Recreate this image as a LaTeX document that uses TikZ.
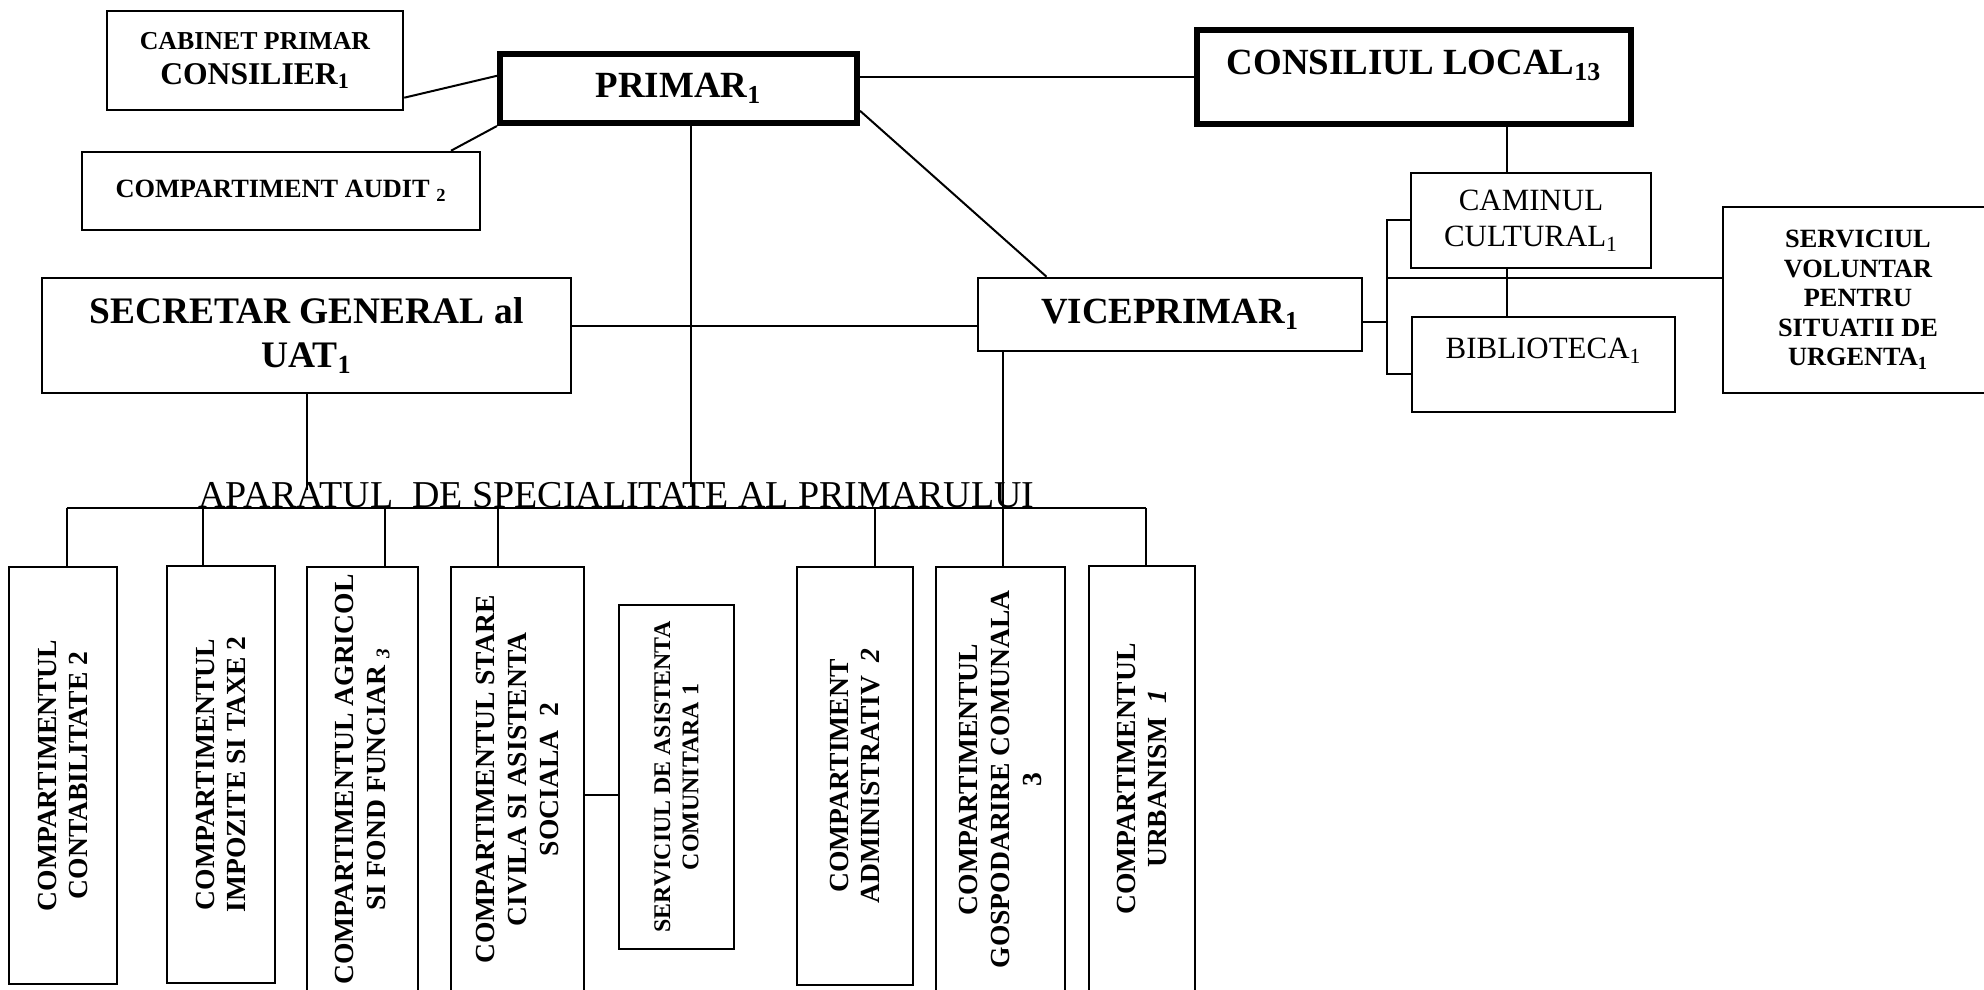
\documentclass[tikz,border=0pt]{standalone}
\usepackage{fontspec}
\setmainfont{Liberation Serif}
\tikzset{
  unitbox/.style={draw, line width=0.050cm, inner sep=0pt, align=center},
  headbox/.style={draw, line width=0.120cm, inner sep=0pt, align=center},
  vertbox/.style={unitbox, rotate=90, font=\fontsize{15.7}{18}\selectfont\bfseries},
  link/.style={line width=0.040cm},
}
\begin{document}
\begin{tikzpicture}
                    \useasboundingbox (0,0) rectangle (39.680000,19.800000);
                    {\bfseries

                    % Marking box PRIMAR
                    \node [headbox, minimum width=7.14cm, minimum height=1.38cm, font=\fontsize{21}{25}\selectfont\bfseries] (primar) at (13.570000,18.030000) {PRIMAR\textsubscript{1}};%

                    % Marking box CONSILIUL LOCAL
                    \node [headbox, minimum width=8.68cm, minimum height=1.88cm, text height=0.50cm, text depth=0.58cm, font=\fontsize{21}{25}\selectfont\bfseries] (consiliul) at (28.280000,18.260000) {CONSILIUL LOCAL\textsubscript{13}};%

                    % Marking box CABINET PRIMAR
                    \node [unitbox, minimum width=5.92cm, minimum height=1.98cm, font=\fontsize{14.7}{19.8}\selectfont\bfseries] (cabinet) at (5.100000,18.590000) {CABINET PRIMAR\\{\fontsize{18}{19.8}\selectfont CONSILIER\textsubscript{1}}};%

                    % Marking box COMPARTIMENT AUDIT
                    \node [unitbox, minimum width=7.96cm, minimum height=1.56cm, font=\fontsize{15}{18}\selectfont\bfseries] (audit) at (5.620000,15.980000) {COMPARTIMENT AUDIT \textsubscript{2}};%

                    % Marking box SECRETAR GENERAL
                    \node [unitbox, minimum width=10.58cm, minimum height=2.30cm, font=\fontsize{21.3}{25}\selectfont\bfseries] (secretar) at (6.130000,13.090000) {SECRETAR GENERAL al\\UAT\textsubscript{1}};%

                    % Marking box VICEPRIMAR
                    \node [unitbox, minimum width=7.68cm, minimum height=1.46cm, font=\fontsize{21}{25}\selectfont\bfseries] (viceprimar) at (23.400000,13.510000) {VICEPRIMAR\textsubscript{1}};%

                    % Marking box CAMINUL CULTURAL
                    \node [unitbox, minimum width=4.80cm, minimum height=1.90cm, font=\fontsize{17.6}{20.5}\selectfont\mdseries] (caminul) at (30.620000,15.390000) {CAMINUL\\CULTURAL\textsubscript{1}};%

                    % Marking box BIBLIOTECA
                    \node [unitbox, minimum width=5.26cm, minimum height=1.90cm, text height=0.41cm, text depth=0.63cm, font=\fontsize{17.6}{20.5}\selectfont\mdseries] (biblioteca) at (30.870000,12.510000) {BIBLIOTECA\textsubscript{1}};%

                    % Marking box SERVICIUL VOLUNTAR
                    \node [unitbox, minimum width=5.40cm, minimum height=3.72cm, font=\fontsize{15}{16.8}\selectfont\bfseries] (serviciul) at (37.160000,13.800000) {SERVICIUL\\VOLUNTAR\\PENTRU\\SITUATII DE\\URGENTA\textsubscript{1}};%

                    % Marking the title of the bus
                    \node [anchor=base, inner sep=0pt, font=\fontsize{21.6}{25}\selectfont\mdseries] (aparat) at (12.330000,9.640000) {APARATUL\ \ DE SPECIALITATE AL PRIMARULUI};%

                    % Marking the vertical boxes
                    \node [vertbox, minimum width=8.34cm, minimum height=2.16cm] (contab) at (1.260000,4.290000) {COMPARTIMENTUL\\CONTABILITATE 2};%
                    \node [vertbox, minimum width=8.34cm, minimum height=2.16cm] (impozite) at (4.420000,4.310000) {COMPARTIMENTUL\\IMPOZITE SI TAXE 2};%
                    \node [vertbox, minimum width=8.50cm, minimum height=2.22cm] (agricol) at (7.250000,4.210000) {COMPARTIMENTUL AGRICOL\\SI FOND FUNCIAR \textsubscript{\textit{3}}};%
                    \node [vertbox, minimum width=8.50cm, minimum height=2.66cm] (starecivila) at (10.350000,4.210000) {COMPARTIMENTUL STARE\\CIVILA SI ASISTENTA\\SOCIALA\ \ 2};%
                    \node [vertbox, minimum width=6.88cm, minimum height=2.30cm, font=\fontsize{13.6}{16}\selectfont\bfseries] (asistenta) at (13.530000,4.260000) {SERVICIUL DE ASISTENTA\\COMUNITARA 1};%
                    \node [vertbox, minimum width=8.36cm, minimum height=2.32cm] (administrativ) at (17.100000,4.280000) {COMPARTIMENT\\ADMINISTRATIV\ \ \textit{2}};%
                    \node [vertbox, minimum width=8.50cm, minimum height=2.58cm] (gospodarire) at (20.010000,4.210000) {COMPARTIMENTUL\\GOSPODARIRE COMUNALA\\3};%
                    \node [vertbox, minimum width=8.52cm, minimum height=2.12cm] (urbanism) at (22.840000,4.220000) {COMPARTIMENTUL\\URBANISM\ \ \textit{1}};%

                    % Marking the points of the bus
                    \coordinate (busa) at (1.330000,9.640000);%
                    \coordinate (busb) at (4.060000,9.640000);%
                    \coordinate (busc) at (7.700000,9.640000);%
                    \coordinate (busd) at (9.960000,9.640000);%
                    \coordinate (buse) at (17.500000,9.640000);%
                    \coordinate (busf) at (20.060000,9.640000);%
                    \coordinate (busg) at (22.920000,9.640000);%
                    \coordinate (primardrop) at (13.820000,10.060000);%
                    \coordinate (secretardrop) at (6.140000,10.000000);%
                    \coordinate (secvp) at (0.000000,13.280000);%

                    % Marking the points of the bracket
                    \coordinate (brtop) at (27.740000,15.390000);%
                    \coordinate (brmid) at (27.740000,14.240000);%
                    \coordinate (brvp) at (27.740000,13.360000);%
                    \coordinate (brbot) at (27.740000,12.320000);%
                    \coordinate (cultaxis) at (30.140000,0.000000);%

                    % Drawing segment PRIMAR CONSILIUL
                    \draw [link] (primar.east |- consiliul.west) -- (consiliul.west);%

                    % Drawing segment CABINET PRIMAR
                    \draw [link] (cabinet.-14.6) -- (primar.176.4);%

                    % Drawing segment AUDIT PRIMAR
                    \draw [link] ([xshift=3.40cm]audit.north) -- (primar.south west);%

                    % Drawing segment PRIMAR VICEPRIMAR
                    \draw [link] (primar.-7.46) -- (viceprimar.163.1);%

                    % Drawing segment SECRETAR VICEPRIMAR
                    \draw [link] (secretar.east |- secvp) -- (viceprimar.west |- secvp);%

                    % Drawing segments down to the bus
                    \draw [link] (primar.south -| primardrop) -- (primardrop);%
                    \draw [link] (secretar.south -| secretardrop) -- (secretardrop);%
                    \draw [link] (viceprimar.south -| busf) -- (busf |- gospodarire.east);%

                    % Drawing the bus
                    \draw [link] (busa) -- (busg);%
                    \draw [link] (busa) -- (busa |- contab.east);%
                    \draw [link] (busb) -- (busb |- impozite.east);%
                    \draw [link] (busc) -- (busc |- agricol.east);%
                    \draw [link] (busd) -- (busd |- starecivila.east);%
                    \draw [link] (buse) -- (buse |- administrativ.east);%
                    \draw [link] (busg) -- (busg |- urbanism.east);%

                    % Drawing segment STARE CIVILA ASISTENTA
                    \draw [link] ([yshift=-0.31cm]starecivila.south) -- ([yshift=-0.31cm]starecivila.south -| asistenta.north);%

                    % Drawing segment CONSILIUL CAMINUL BIBLIOTECA
                    \draw [link] (consiliul.south -| cultaxis) -- (caminul.north -| cultaxis);%
                    \draw [link] (caminul.south -| cultaxis) -- (biblioteca.north -| cultaxis);%

                    % Drawing the bracket
                    \draw [link] (caminul.west |- brtop) -- (brtop) -- (brbot) -- (brbot -| biblioteca.west);%
                    \draw [link] (brmid) -- (brmid -| serviciul.west);%
                    \draw [link] (viceprimar.east |- brvp) -- (brvp);%
                    }
\end{tikzpicture}
\end{document}
